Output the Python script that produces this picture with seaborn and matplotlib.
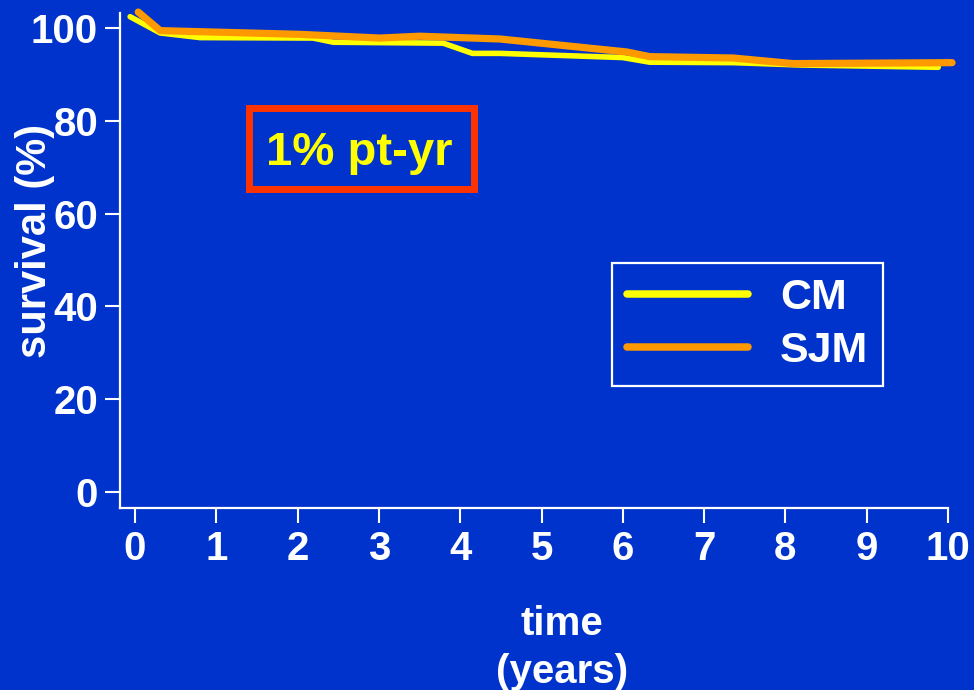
import matplotlib
matplotlib.use("Agg")
import matplotlib.pyplot as plt
import matplotlib.patches as mpatches
import seaborn as sns
import pandas as pd

# ---- data ----
cm_time = [-0.06, 0.31, 0.80, 2.19, 2.44, 3.79, 4.15, 4.49, 6.00, 6.33, 7.36, 8.18, 9.88]
cm_surv = [102.4, 98.9, 97.9, 97.8, 96.9, 96.7, 94.5, 94.5, 93.6, 92.6, 92.5, 92.0, 91.5]
sjm_time = [0.04, 0.31, 2.03, 3.01, 3.50, 4.49, 6.05, 6.33, 7.36, 8.09, 10.05]
sjm_surv = [103.4, 99.4, 98.6, 97.8, 98.2, 97.6, 94.8, 93.8, 93.5, 92.3, 92.5]
series_names = ["CM", "SJM"]
x_ticks = [0, 1, 2, 3, 4, 5, 6, 7, 8, 9, 10]
y_ticks = [0, 20, 40, 60, 80, 100]
annotation = "1% pt-yr"
x_label = "time\n(years)"
y_label = "survival (%)"

BG = "#0033CC"
YELLOW = "#FFFF00"
ORANGE = "#FF9900"
RED = "#FF3300"
WHITE = "#FFFFFF"

sns.set_theme(style="ticks")
plt.rcParams["font.family"] = ["Liberation Sans", "DejaVu Sans"]
plt.rcParams["font.weight"] = "bold"

fig = plt.figure(figsize=(9.74, 6.90), dpi=100, facecolor=BG)
ax = fig.add_axes([120 / 974, 1 - 508 / 690, (948 - 120) / 974, (508 - 13) / 690])
ax.set_facecolor(BG)

df_cm = pd.DataFrame({"time": cm_time, "survival": cm_surv})
df_sjm = pd.DataFrame({"time": sjm_time, "survival": sjm_surv})
sns.lineplot(data=df_cm, x="time", y="survival", ax=ax, color=YELLOW,
             linewidth=4.0, label=series_names[0], sort=False)
sns.lineplot(data=df_sjm, x="time", y="survival", ax=ax, color=ORANGE,
             linewidth=5.2, label=series_names[1], sort=False)
for ln in ax.get_lines():
    ln.set_clip_on(False)

ax.set_xlim(-15 / 81.3, 10)
ax.set_ylim(-3.45, 103.2)
ax.set_xticks(x_ticks)
ax.set_yticks(y_ticks)
ax.set_xlabel("")
ax.set_ylabel("")
for s in ["top", "right"]:
    ax.spines[s].set_visible(False)
for s in ["left", "bottom"]:
    ax.spines[s].set_color(WHITE)
    ax.spines[s].set_linewidth(1.6)
ax.tick_params(axis="both", colors=WHITE, length=10.8, width=1.5, pad=5,
               labelsize=29)
for lab in ax.get_xticklabels() + ax.get_yticklabels():
    lab.set_fontweight("bold")
    lab.set_color(WHITE)

leg = ax.legend(loc="upper left", bbox_to_anchor=(612 / 974, 1 - 263 / 690),
                bbox_transform=fig.transFigure, frameon=True, fancybox=False,
                prop={"size": 31, "weight": "bold"}, handlelength=2.8,
                handletextpad=0.75, labelspacing=0.3, borderpad=0.35,
                borderaxespad=0)
leg.get_frame().set_facecolor(BG)
leg.get_frame().set_edgecolor(WHITE)
leg.get_frame().set_linewidth(1.6)
leg.get_frame().set_alpha(1)
for t in leg.get_texts():
    t.set_color(WHITE)
for h in leg.get_lines():
    h.set_linewidth(5.4)

# annotation box
rect = mpatches.Rectangle((248.5 / 974, 1 - 189.5 / 690), 225 / 974, 81 / 690,
                          transform=fig.transFigure, fill=False,
                          edgecolor=RED, linewidth=5.0)
fig.patches.append(rect)
fig.text(359.5 / 974, 1 - 165 / 690, annotation, color=YELLOW, fontsize=34,
         fontweight="bold", ha="center", va="baseline")

# axis labels
fig.text(35 / 974, 1 - 241 / 690, y_label, color=WHITE, fontsize=30,
         fontweight="bold", rotation=90, ha="center", va="center")
fig.text(562 / 974, 1 - 648 / 690, x_label, color=WHITE, fontsize=29,
         fontweight="bold", ha="center", va="center", linespacing=1.35)

fig.savefig("out.png", dpi=100, facecolor=BG)
